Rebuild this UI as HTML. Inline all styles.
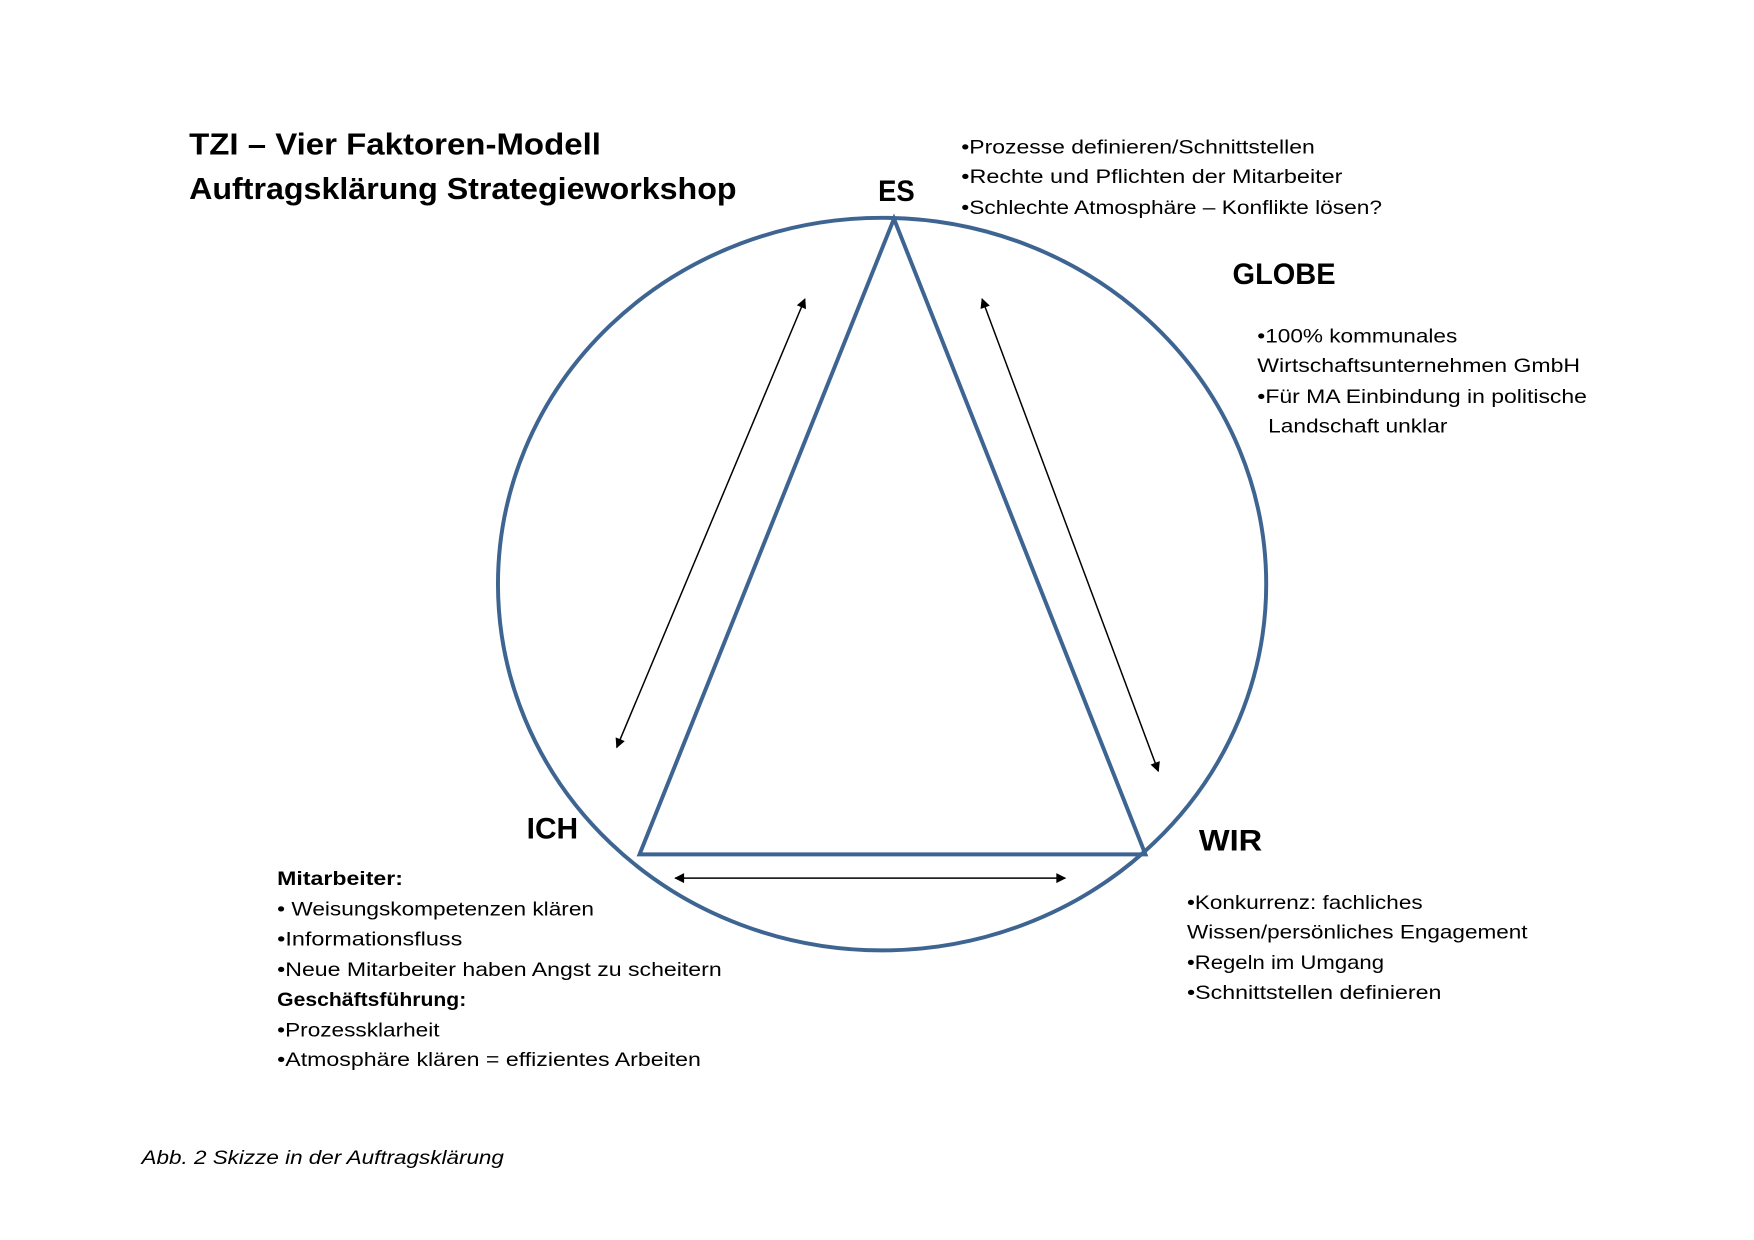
<!DOCTYPE html>
<html><head><meta charset="utf-8"><style>
html,body{margin:0;padding:0;background:#fff;}
svg{display:block;}
text{font-family:"Liberation Sans",sans-serif;fill:#000;}
.b{font-weight:bold;}
.t{font-size:20px;}
</style></head><body>
<svg width="1754" height="1240" viewBox="0 0 1754 1240" xmlns="http://www.w3.org/2000/svg">
<defs>
<marker id="a" viewBox="0 0 10 10" refX="9" refY="5" markerWidth="11" markerHeight="10" orient="auto-start-reverse" markerUnits="userSpaceOnUse"><path d="M0,0 L10,5 L0,10 z" fill="#000"/></marker>
</defs>
<g transform="scale(0.99)">
<ellipse cx="891" cy="590" rx="388" ry="370" fill="none" stroke="#3e6592" stroke-width="4"/>
<polygon points="903,221 646,863 1157,863" fill="none" stroke="#3e6592" stroke-width="4" stroke-linejoin="miter"/>
<line x1="813" y1="302" x2="623" y2="755" stroke="#000" stroke-width="1.5" marker-start="url(#a)" marker-end="url(#a)"/>
<line x1="992" y1="302" x2="1170" y2="779" stroke="#000" stroke-width="1.5" marker-start="url(#a)" marker-end="url(#a)"/>
<line x1="682" y1="887" x2="1076" y2="887" stroke="#000" stroke-width="1.5" marker-start="url(#a)" marker-end="url(#a)"/>

<text class="b" x="191" y="156" font-size="31" textLength="416" lengthAdjust="spacingAndGlyphs">TZI – Vier Faktoren-Modell</text>
<text class="b" x="191" y="201" font-size="31" textLength="553" lengthAdjust="spacingAndGlyphs">Auftragsklärung Strategieworkshop</text>
<text class="b" x="887" y="203" font-size="30" textLength="37" lengthAdjust="spacingAndGlyphs">ES</text>
<text class="b" x="1245" y="287" font-size="30" textLength="104" lengthAdjust="spacingAndGlyphs">GLOBE</text>
<text class="b" x="532" y="847" font-size="30" textLength="52" lengthAdjust="spacingAndGlyphs">ICH</text>
<text class="b" x="1211" y="859" font-size="30" textLength="64" lengthAdjust="spacingAndGlyphs">WIR</text>

<g class="t">
<text x="971" y="155" textLength="357" lengthAdjust="spacingAndGlyphs">•Prozesse definieren/Schnittstellen</text>
<text x="971" y="185" textLength="385" lengthAdjust="spacingAndGlyphs">•Rechte und Pflichten der Mitarbeiter</text>
<text x="971" y="216" textLength="425" lengthAdjust="spacingAndGlyphs">•Schlechte Atmosphäre – Konflikte lösen?</text>

<text x="1270" y="346" textLength="202" lengthAdjust="spacingAndGlyphs">•100% kommunales</text>
<text x="1270" y="376" textLength="326" lengthAdjust="spacingAndGlyphs">Wirtschaftsunternehmen GmbH</text>
<text x="1270" y="407" textLength="333" lengthAdjust="spacingAndGlyphs">•Für MA Einbindung in politische</text>
<text x="1281" y="437" textLength="181" lengthAdjust="spacingAndGlyphs">Landschaft unklar</text>

<text class="b" x="280" y="894" textLength="127" lengthAdjust="spacingAndGlyphs">Mitarbeiter:</text>
<text x="280" y="925" textLength="320" lengthAdjust="spacingAndGlyphs">• Weisungskompetenzen klären</text>
<text x="280" y="955" textLength="187" lengthAdjust="spacingAndGlyphs">•Informationsfluss</text>
<text x="280" y="986" textLength="449" lengthAdjust="spacingAndGlyphs">•Neue Mitarbeiter haben Angst zu scheitern</text>
<text class="b" x="280" y="1016" textLength="191" lengthAdjust="spacingAndGlyphs">Geschäftsführung:</text>
<text x="280" y="1047" textLength="164" lengthAdjust="spacingAndGlyphs">•Prozessklarheit</text>
<text x="280" y="1077" textLength="428" lengthAdjust="spacingAndGlyphs">•Atmosphäre klären = effizientes Arbeiten</text>

<text x="1199" y="918" textLength="238" lengthAdjust="spacingAndGlyphs">•Konkurrenz: fachliches</text>
<text x="1199" y="948" textLength="344" lengthAdjust="spacingAndGlyphs">Wissen/persönliches Engagement</text>
<text x="1199" y="979" textLength="199" lengthAdjust="spacingAndGlyphs">•Regeln im Umgang</text>
<text x="1199" y="1009" textLength="257" lengthAdjust="spacingAndGlyphs">•Schnittstellen definieren</text>
</g>
<text x="143" y="1176" font-size="20" font-style="italic" textLength="366" lengthAdjust="spacingAndGlyphs">Abb. 2 Skizze in der Auftragsklärung</text>
</g>
</svg>
</body></html>
